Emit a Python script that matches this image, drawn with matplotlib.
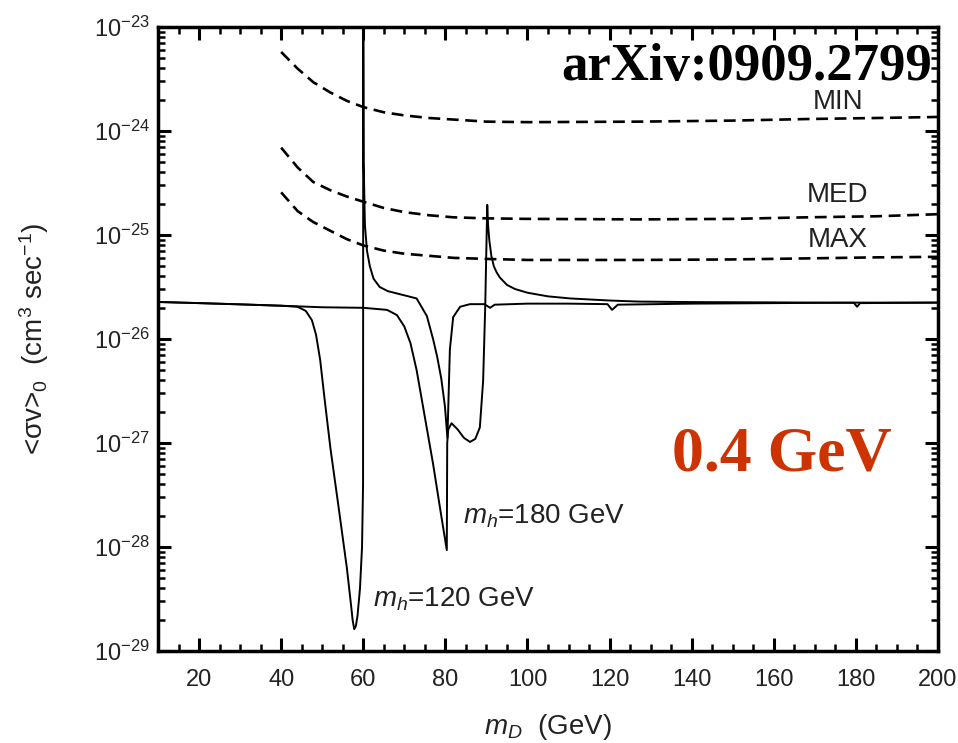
import numpy as np
import matplotlib
matplotlib.use("Agg")
import matplotlib.pyplot as plt
from matplotlib.ticker import LogLocator, MultipleLocator, NullFormatter

plt.rcParams['font.family'] = ['Liberation Sans', 'DejaVu Sans']
plt.rcParams['mathtext.fontset'] = 'custom'
plt.rcParams['mathtext.rm'] = 'Liberation Sans'
plt.rcParams['mathtext.it'] = 'Liberation Sans:italic'
plt.rcParams['mathtext.bf'] = 'Liberation Sans:bold'

# ---- data (y values given as log10 of <sigma v>) ----
mh120_x = [10, 20, 30, 40, 44, 46, 47.5, 48.5, 49.5, 50.5, 52, 54, 56, 57, 57.4, 57.8, 58.2,
           58.6, 59.2, 59.7, 59.95, 60.0, 60.1, 60.4, 60.9, 61.6, 62.5, 64, 66, 68, 70, 73,
           75.5, 77, 78, 79, 79.9, 80.5, 81.1, 81.9, 83.6, 86, 89.5, 90.9, 92, 100, 110, 119.5,
           120.6, 122, 140, 160, 180, 200]
mh120_log = [-25.644, -25.655, -25.667, -25.68, -25.69, -25.73, -25.82, -25.96, -26.2, -26.55,
             -27.05, -27.62, -28.2, -28.55, -28.7, -28.79, -28.76, -28.66, -28.4, -28.0, -27.4,
             -22.9, -24.3, -24.9, -25.15, -25.3, -25.42, -25.5, -25.54, -25.56, -25.58, -25.61,
             -25.78, -26.0, -26.17, -26.38, -26.65, -26.95, -26.1, -25.79, -25.69, -25.665,
             -25.665, -25.70, -25.67, -25.66, -25.66, -25.665, -25.72, -25.67, -25.66, -25.655,
             -25.65, -25.65]

mh180_x = [10, 20, 30, 40, 50, 60, 65.8, 68.2, 70, 71.5, 73, 75, 77, 79, 80.35, 80.45, 80.7,
           81.5, 83, 84.5, 86, 87.3, 88.4, 89.2, 89.7, 90.2, 90.4, 90.7, 91.2, 91.8, 92.5, 93.3,
           95, 97, 100, 105, 110.4, 120, 127, 140, 160, 179.5, 180.3, 181, 200]
mh180_log = [-25.644, -25.655, -25.667, -25.68, -25.695, -25.70, -25.72, -25.77, -25.88, -26.04,
             -26.3, -26.75, -27.2, -27.7, -28.03, -27.0, -26.87, -26.81, -26.87, -26.95, -26.99,
             -26.96, -26.85, -26.4, -25.7, -24.71, -24.9, -25.05, -25.2, -25.3, -25.36, -25.41,
             -25.48, -25.52, -25.555, -25.59, -25.61, -25.63, -25.64, -25.645, -25.648, -25.652,
             -25.69, -25.655, -25.65]

halo_x = [40, 44, 47.8, 52, 56, 60, 65, 70, 76, 82, 90, 100, 127, 150, 168, 185, 200]
min_log = [-23.24, -23.4, -23.53, -23.63, -23.71, -23.77, -23.82, -23.85, -23.875, -23.89,
           -23.91, -23.915, -23.91, -23.9, -23.885, -23.875, -23.865]
med_log = [-24.16, -24.35, -24.49, -24.57, -24.63, -24.68, -24.74, -24.78, -24.81, -24.83,
           -24.84, -24.845, -24.85, -24.845, -24.83, -24.82, -24.8]
max_log = [-24.59, -24.77, -24.875, -24.96, -25.04, -25.1, -25.15, -25.18, -25.2, -25.22,
           -25.23, -25.24, -25.24, -25.235, -25.225, -25.215, -25.21]

halo_labels = ['MIN', 'MED', 'MAX']
curve_labels = ['$m_h$=120 GeV', '$m_h$=180 GeV']
xticks = [20, 40, 60, 80, 100, 120, 140, 160, 180, 200]

W, H = 958, 743
fig = plt.figure(figsize=(W / 100, H / 100), dpi=100)
ax = fig.add_axes([158 / W, 1 - 651 / H, (938 - 158) / W, (651 - 27) / H])

ax.plot(mh120_x, 10 ** np.array(mh120_log), color='black', lw=1.4)
ax.plot(mh180_x, 10 ** np.array(mh180_log), color='black', lw=1.4)
for vals in (min_log, med_log, max_log):
    ax.plot(halo_x, 10 ** np.array(vals), color='black', lw=1.9, ls=(0, (4.5, 2.5)))

ax.set_yscale('log')
ax.set_xlim(10, 200)
ax.set_ylim(1e-29, 1e-23)
ax.set_xticks(xticks)
ax.xaxis.set_minor_locator(MultipleLocator(5))
ax.yaxis.set_major_locator(LogLocator(base=10, numticks=20))
ax.yaxis.set_minor_locator(LogLocator(base=10, subs=np.arange(2, 10), numticks=100))
ax.yaxis.set_minor_formatter(NullFormatter())

ax.tick_params(which='both', direction='in', top=True, right=True, color='black')
ax.tick_params(which='major', length=9.5, width=2.2)
ax.tick_params(which='minor', length=5, width=1.8)
ax.tick_params(axis='x', which='major', labelsize=17, pad=13, labelcolor='#222222')
ax.tick_params(axis='y', which='major', labelsize=17, pad=6, labelcolor='#222222')
for s in ax.spines.values():
    s.set_linewidth(2.5)

ax.set_xlabel('$m_D$  (GeV)', fontsize=20, labelpad=15, color='#222222')
ax.set_ylabel('<σv>$_0$  (cm$^3$ sec$^{-1}$)', fontsize=20, labelpad=31, color='#222222')

# labels on halo curves
ax.text(175.6, 10 ** -23.72, halo_labels[0], fontsize=20, ha='center', va='center', color='#222222')
ax.text(175.6, 10 ** -24.615, halo_labels[1], fontsize=20, ha='center', va='center', color='#222222')
ax.text(175.6, 10 ** -25.05, halo_labels[2], fontsize=20, ha='center', va='center', color='#222222')

ax.text(62.4, 10 ** -28.57, curve_labels[0], fontsize=20, ha='left', va='baseline', color='#222222')
ax.text(84.3, 10 ** -27.77, curve_labels[1], fontsize=20, ha='left', va='baseline', color='#222222')

ax.text(198.5, 10 ** -23.51, 'arXiv:0909.2799', fontsize=38, fontweight='bold',
        family='Liberation Serif', ha='right', va='baseline')
ax.text(135.2, 10 ** -27.26, '0.4 GeV', fontsize=46, fontweight='bold',
        family='Liberation Serif', color='#CC3300', ha='left', va='baseline')

fig.savefig('out.png', dpi=100)
